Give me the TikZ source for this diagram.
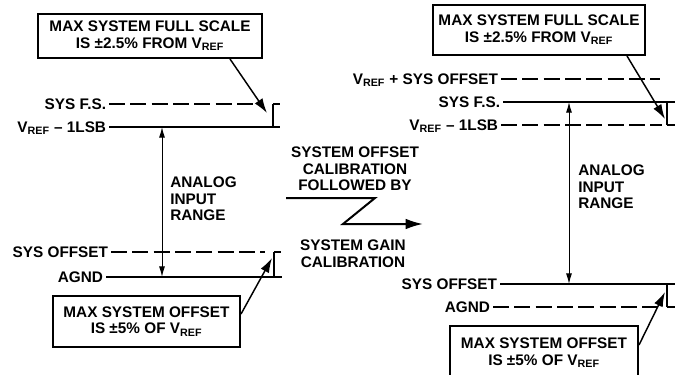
\documentclass[tikz,border=0pt]{standalone}
\usepackage{fontspec}
\setmainfont{Liberation Sans}
\usetikzlibrary{arrows.meta, positioning}

\begin{document}
\begin{tikzpicture}[x=0.75pt, y=-0.75pt,
    font=\fontsize{11.5}{12.5}\selectfont\bfseries,
    lbl/.style={anchor=east, inner sep=2pt, text height=8pt, text depth=0pt},
    txt/.style={align=left, anchor=west, inner sep=0pt},
    mid/.style={align=center, inner sep=0pt},
    note/.style={draw, line width=1.5pt, align=center, inner sep=0pt},
    level/.style={line width=1.5pt},
    dlevel/.style={line width=1.5pt, dash pattern=on 12pt off 4pt},
    callout/.style={line width=1.1pt, -{Latex[length=11pt,width=7pt]}},
    spanarrow/.style={line width=0.75pt, {Latex[length=8pt,width=4.5pt]}-{Latex[length=8pt,width=4.5pt]}}]
    \useasboundingbox (0,0) rectangle (683,375);

    % Before calibration
    \node[note, minimum width=224*0.75pt, minimum height=44*0.75pt] (topL) at (150,36)
        {MAX SYSTEM FULL SCALE\\IS ±2.5\% FROM V\textsubscript{REF}};
    \node[lbl] (fsL) at (109,104) {SYS F.S.};
    \node[lbl] (lsbL) at (109,127) {V\textsubscript{REF} – 1LSB};
    \node[lbl] (offL) at (111,252) {SYS OFFSET};
    \node[lbl] (agndL) at (106,277) {AGND};
    \node[txt] (rangeL) at (170,199) {ANALOG\\INPUT\\RANGE};
    \node[note, minimum width=187*0.75pt, minimum height=51*0.75pt] (botL) at (146.5,321.5)
        {MAX SYSTEM OFFSET\\IS ±5\% OF V\textsubscript{REF}};

    \coordinate (fsLe) at (262,104);
    \coordinate (lsbLe) at (280,127);
    \coordinate (offLe) at (265,252);
    \coordinate (agndLe) at (282,277);
    \coordinate (brL1) at (273,104);
    \coordinate (brL2) at (274,252);
    \coordinate (rL1) at (162,127);
    \coordinate (rL2) at (162,277);
    \coordinate (aL1) at (267,113);
    \coordinate (aL2) at (272,258);

    \draw[dlevel] (fsL.east) -- (fsLe);
    \draw[level] (lsbL.east) -- (lsbLe);
    \draw[dlevel] (offL.east) -- (offLe);
    \draw[level] (agndL.east) -- (agndLe);
    \draw[level] (brL1) -- ++(7,0) (brL1) -- (brL1 |- lsbLe);
    \draw[level] (brL2) -- ++(7,0) (brL2) -- (brL2 |- agndLe);
    \draw[spanarrow] (rL1) -- (rL2);
    \draw[callout] ([xshift=60pt]topL.south) -- (aL1);
    \draw[callout] ([yshift=5.6pt]botL.east) -- (aL2);

    % Calibration step
    \node[mid] (calib) at (355,169) {SYSTEM OFFSET\\CALIBRATION\\FOLLOWED BY};
    \node[mid] (gain) at (353,253.5) {SYSTEM GAIN\\CALIBRATION};
    \coordinate (zA) at (286,198);
    \coordinate (zB) at (375,198);
    \coordinate (zC) at (343,224);
    \coordinate (zD) at (423,224);
    \draw[line width=1.5pt, -{Latex[length=13pt,width=8pt]}] (zA) -- (zB) -- (zC) -- (zD);

    % After calibration
    \node[note, minimum width=212*0.75pt, minimum height=50*0.75pt] (topR) at (539,30)
        {MAX SYSTEM FULL SCALE\\IS ±2.5\% FROM V\textsubscript{REF}};
    \node[lbl] (vsoR) at (501,79) {V\textsubscript{REF} + SYS OFFSET};
    \node[lbl] (fsR) at (503,102) {SYS F.S.};
    \node[lbl] (lsbR) at (501,125) {V\textsubscript{REF} – 1LSB};
    \node[lbl] (offR) at (500,284) {SYS OFFSET};
    \node[lbl] (agndR) at (493,307) {AGND};
    \node[txt] (rangeR) at (578,187) {ANALOG\\INPUT\\RANGE};
    \node[note, minimum width=188*0.75pt, minimum height=54*0.75pt] (botR) at (544,353)
        {MAX SYSTEM OFFSET\\IS ±5\% OF V\textsubscript{REF}};

    \coordinate (vsoRe) at (660,79);
    \coordinate (fsRe) at (675,102);
    \coordinate (lsbRe) at (662,125);
    \coordinate (offRe) at (675,284);
    \coordinate (agndRe) at (662,307);
    \coordinate (brR1) at (667,125);
    \coordinate (brR2) at (667,307);
    \coordinate (rR1) at (569,102);
    \coordinate (rR2) at (569,284);
    \coordinate (aR1) at (665,119);
    \coordinate (aR2) at (665,292);

    \draw[dlevel] (vsoR.east) -- (vsoRe);
    \draw[level] (fsR.east) -- (fsRe);
    \draw[dlevel] (lsbR.east) -- (lsbRe);
    \draw[level] (offR.east) -- (offRe);
    \draw[dlevel] (agndR.east) -- (agndRe);
    \draw[level] (brR1) -- ++(8,0) (brR1) -- (brR1 |- fsRe);
    \draw[level] (brR2) -- ++(8,0) (brR2) -- (brR2 |- offRe);
    \draw[spanarrow] (rR1) -- (rR2);
    \draw[callout] ([xshift=66pt]topR.south) -- (aR1);
    \draw[callout] ([yshift=6pt]botR.east) -- (aR2);
\end{tikzpicture}
\end{document}
